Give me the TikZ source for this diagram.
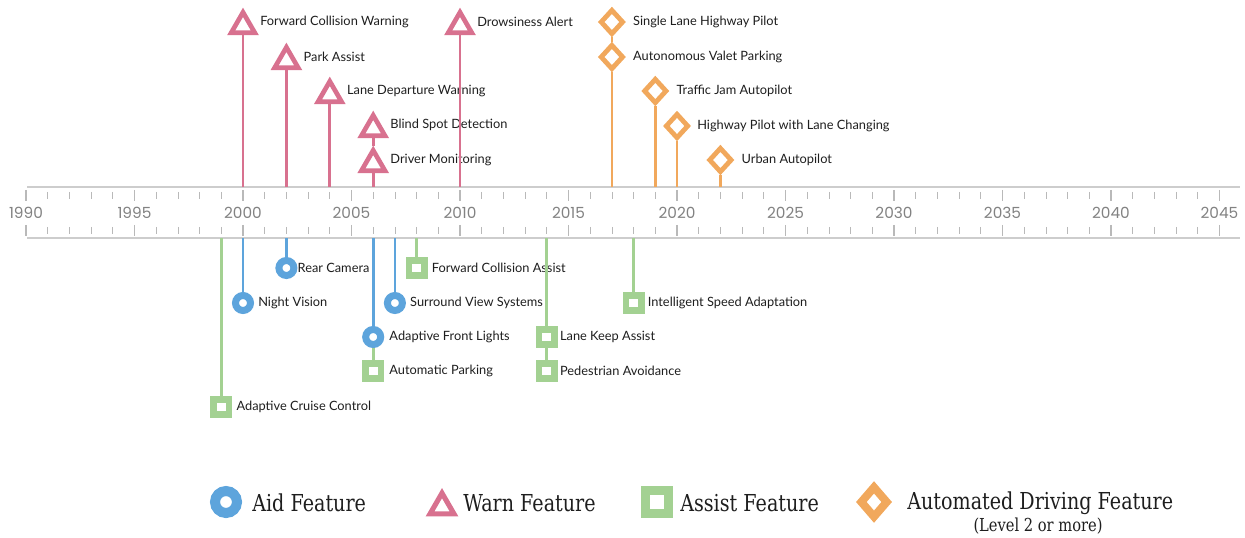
\documentclass[tikz,border=0pt]{standalone}
\usepackage{fontspec}
\setmainfont{Lato}
\newfontfamily\yearfont{Poppins}
\newfontfamily\legendfont[FakeStretch=0.82]{DejaVu Serif}
\usetikzlibrary{shapes.geometric, positioning, backgrounds}
\definecolor{aidcolor}{RGB}{93,164,220}
\definecolor{warncolor}{RGB}{216,113,143}
\definecolor{assistcolor}{RGB}{163,209,146}
\definecolor{drivecolor}{RGB}{241,168,92}
\definecolor{axiscolor}{RGB}{205,205,205}
\definecolor{tickcolor}{RGB}{185,185,185}
\definecolor{yearcolor}{RGB}{130,130,130}
\definecolor{textcolor}{RGB}{30,30,30}
\tikzstyle{aid} = [circle, draw=aidcolor, fill=white, line width=5.25pt, minimum size=11.25pt, inner sep=0pt]
\tikzstyle{warn} = [regular polygon, regular polygon sides=3, draw=warncolor, fill=white, line width=3.5pt, minimum size=20.5pt, inner sep=0pt]
\tikzstyle{assist} = [rectangle, draw=assistcolor, fill=white, line width=5pt, minimum size=11.5pt, inner sep=0pt]
\tikzstyle{automated} = [diamond, draw=drivecolor, fill=white, line width=3.6pt, minimum width=17.5pt, minimum height=19pt, inner sep=0pt]
\tikzstyle{lbl} = [anchor=west, inner sep=0pt, text=textcolor, font=\fontsize{9.6}{11}\selectfont]
\tikzstyle{yearlbl} = [inner sep=0pt, text=yearcolor, font=\yearfont\fontsize{11.5}{13}\selectfont]
\tikzstyle{leglbl} = [anchor=west, inner sep=0pt, text=textcolor, font=\legendfont\fontsize{17.5}{20}\selectfont]
\tikzstyle{stem} = [line width=2pt]

\begin{document}
\begin{tikzpicture}[x=0.75pt, y=-0.75pt, declare function={yr(\a)=26+(\a-1990)*21.7;}]
\useasboundingbox (0,0) rectangle (1245,538);

% Zeitachse
\coordinate (axTop) at (0,187);
\coordinate (axBot) at (0,238);
\draw[axiscolor, line width=1pt] (27,187) -- (1240,187);
\draw[axiscolor, line width=1pt] (27,238) -- (1240,238);
\foreach \yy in {1990,...,2045} {
  \draw[tickcolor, line width=0.6pt] ({yr(\yy)},192) -- ({yr(\yy)},199);
  \draw[tickcolor, line width=0.6pt] ({yr(\yy)},227) -- ({yr(\yy)},234);
}
\foreach \yy in {1990,1995,...,2045} {
  \draw[tickcolor, line width=0.8pt] ({yr(\yy)},190) -- ({yr(\yy)},201);
  \draw[tickcolor, line width=0.8pt] ({yr(\yy)},225) -- ({yr(\yy)},236);
  \node[yearlbl] (y\yy) at ({yr(\yy)},213) {\yy};
}

% Warn
\node[warn] (fcw) at ({yr(2000)},26) {};
\node[lbl] (fcwT) at ({yr(2000)+17},22) {Forward Collision Warning};
\node[warn] (park) at ({yr(2002)},61) {};
\node[lbl] (parkT) at ({yr(2002)+17},57) {Park Assist};
\node[warn] (ldw) at ({yr(2004)},95) {};
\node[lbl] (ldwT) at ({yr(2004)+17},91) {Lane Departure Warning};
\node[warn] (bsd) at ({yr(2006)},129) {};
\node[lbl] (bsdT) at ({yr(2006)+17},125) {Blind Spot Detection};
\node[warn] (dmon) at ({yr(2006)},164) {};
\node[lbl] (dmonT) at ({yr(2006)+17},160) {Driver Monitoring};
\node[warn] (drow) at ({yr(2010)},26) {};
\node[lbl] (drowT) at ({yr(2010)+17},22) {Drowsiness Alert};

% Automated
\node[automated] (slhp) at ({yr(2017)},22) {};
\node[lbl] (slhpT) at ({yr(2017)+21},22) {Single Lane Highway Pilot};
\node[automated] (avp) at ({yr(2017)},57) {};
\node[lbl] (avpT) at ({yr(2017)+21},57) {Autonomous Valet Parking};
\node[automated] (tja) at ({yr(2019)},91) {};
\node[lbl] (tjaT) at ({yr(2019)+21},91) {Traffic Jam Autopilot};
\node[automated] (hplc) at ({yr(2020)},126) {};
\node[lbl] (hplcT) at ({yr(2020)+20},126) {Highway Pilot with Lane Changing};
\node[automated] (urban) at ({yr(2022)},160) {};
\node[lbl] (urbanT) at ({yr(2022)+21},160) {Urban Autopilot};

% Aid
\node[aid] (rear) at ({yr(2002)},268) {};
\node[lbl] (rearT) at ({yr(2002)+11},268) {Rear Camera};
\node[aid] (night) at ({yr(2000)},303) {};
\node[lbl] (nightT) at ({yr(2000)+15},303) {Night Vision};
\node[aid] (surr) at ({yr(2007)},303) {};
\node[lbl] (surrT) at ({yr(2007)+15},303) {Surround View Systems};
\node[aid] (afl) at ({yr(2006)},337) {};
\node[lbl] (aflT) at ({yr(2006)+16},337) {Adaptive Front Lights};

% Assist
\node[assist] (fca) at ({yr(2008)},268) {};
\node[lbl] (fcaT) at ({yr(2008)+15},268) {Forward Collision Assist};
\node[assist] (isa) at ({yr(2018)},303) {};
\node[lbl] (isaT) at ({yr(2018)+14},303) {Intelligent Speed Adaptation};
\node[assist] (lka) at ({yr(2014)},337) {};
\node[lbl] (lkaT) at ({yr(2014)+13},337) {Lane Keep Assist};
\node[assist] (apark) at ({yr(2006)},371) {};
\node[lbl] (aparkT) at ({yr(2006)+16},371) {Automatic Parking};
\node[assist] (ped) at ({yr(2014)},371) {};
\node[lbl] (pedT) at ({yr(2014)+13},371) {Pedestrian Avoidance};
\node[assist] (acc) at ({yr(1999)},407) {};
\node[lbl] (accT) at ({yr(1999)+15},407) {Adaptive Cruise Control};

% Stiele
\draw[stem, warncolor] (fcw) -- (fcw |- axTop);
\draw[stem, warncolor] (park) -- (park |- axTop);
\draw[stem, warncolor] (ldw) -- (ldw |- axTop);
\draw[stem, warncolor] (bsd) -- (dmon);
\draw[stem, warncolor] (dmon) -- (dmon |- axTop);
\draw[stem, warncolor] (drow) -- (drow |- axTop);
\draw[stem, drivecolor] (slhp) -- (avp);
\draw[stem, drivecolor] (avp) -- (avp |- axTop);
\draw[stem, drivecolor] (tja) -- (tja |- axTop);
\draw[stem, drivecolor] (hplc) -- (hplc |- axTop);
\draw[stem, drivecolor] (urban) -- (urban |- axTop);
\draw[stem, aidcolor] (rear) -- (rear |- axBot);
\draw[stem, aidcolor] (night) -- (night |- axBot);
\draw[stem, aidcolor] (surr) -- (surr |- axBot);
\draw[stem, aidcolor] (afl) -- (afl |- axBot);
\draw[stem, assistcolor] (afl) -- (apark);
\draw[stem, assistcolor] (fca) -- (fca |- axBot);
\draw[stem, assistcolor] (isa) -- (isa |- axBot);
\draw[stem, assistcolor] (lka) -- (lka |- axBot);
\draw[stem, assistcolor] (lka) -- (ped);
\draw[stem, assistcolor] (acc) -- (acc |- axBot);

% Legende
\node[aid, minimum size=16.5pt, line width=7.5pt] (legAid) at (226,502) {};
\node[leglbl] (legAidT) at (252,503) {Aid Feature};
\node[warn, minimum size=20.8pt, line width=3.8pt] (legWarn) at (442,507) {};
\node[leglbl] (legWarnT) at (463,503) {Warn Feature};
\node[assist, minimum size=17pt, line width=7pt] (legAssist) at (657,502) {};
\node[leglbl] (legAssistT) at (680,503) {Assist Feature};
\node[automated, minimum width=21.5pt, minimum height=24.5pt, line width=6pt] (legAuto) at (874,502) {};
\node[leglbl] (legAutoT) at (907,503) {Automated Driving Feature};
\node[inner sep=0pt, text=textcolor, font=\legendfont\fontsize{13.4}{15}\selectfont] (legLevel) at (1038,526) {(Level 2 or more)};

\end{tikzpicture}
\end{document}
